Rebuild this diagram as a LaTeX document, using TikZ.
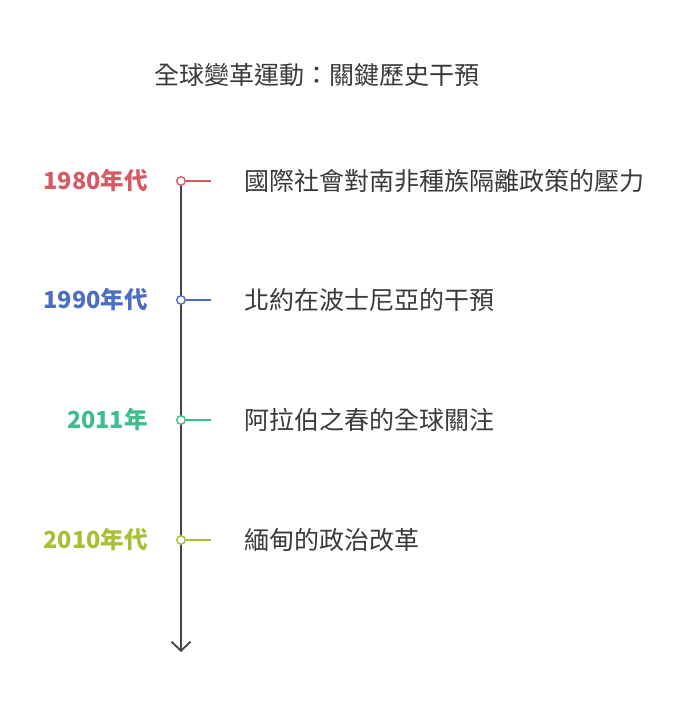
\documentclass[tikz,border=0pt]{standalone}
\usepackage{fontspec}
\setmainfont{Noto Sans CJK TC}
\usetikzlibrary{arrows.meta}
\usepackage{xcolor}
\definecolor{redline}{HTML}{D65A64}
\definecolor{blueline}{HTML}{4C6FC4}
\definecolor{greenline}{HTML}{3DBE8B}
\definecolor{limeline}{HTML}{AABF35}
\definecolor{axisgray}{HTML}{444444}
\definecolor{textgray}{HTML}{3A3A3A}

\begin{document}
\begin{tikzpicture}[x=1pt,y=1pt,>={Straight Barb[length=9pt,width=19pt,line width=1.8pt]}]
  \useasboundingbox (0,0) rectangle (678,-714);
  \tikzset{year/.style={anchor=east,font=\fontsize{23.5}{26}\selectfont\bfseries,inner sep=0pt},
    event/.style={anchor=west,font=\fontsize{25}{28}\selectfont,text=textgray,inner sep=0pt},
    dot/.style={circle,draw,fill=white,line width=1.4pt,minimum size=8.5pt,inner sep=0pt}}

  \node[font=\fontsize{25}{28}\selectfont,text=textgray] (title) at (316.5,-75) {全球變革運動：關鍵歷史干預};

  \coordinate (top) at (181,-181);
  \coordinate (bottom) at (181,-652);
  \draw[->,line width=2pt,axisgray] (top) -- (bottom);

  \node[dot,draw=redline] (d1) at (181,-181) {};
  \node[dot,draw=blueline] (d2) at (181,-300) {};
  \node[dot,draw=greenline] (d3) at (181,-420) {};
  \node[dot,draw=limeline] (d4) at (181,-540) {};

  \coordinate (t1) at (211,-181);
  \coordinate (t2) at (211,-300);
  \coordinate (t3) at (211,-420);
  \coordinate (t4) at (211,-540);
  \draw[redline,line width=1.4pt] (d1) -- (t1);
  \draw[blueline,line width=1.4pt] (d2) -- (t2);
  \draw[greenline,line width=1.4pt] (d3) -- (t3);
  \draw[limeline,line width=1.4pt] (d4) -- (t4);

  \node[year,text=redline] (y1) at (148,-181) {1980年代};
  \node[year,text=blueline] (y2) at (148,-300) {1990年代};
  \node[year,text=greenline] (y3) at (148,-420) {2011年};
  \node[year,text=limeline] (y4) at (148,-540) {2010年代};

  \node[event] (e1) at (244,-181) {國際社會對南非種族隔離政策的壓力};
  \node[event] (e2) at (244,-300) {北約在波士尼亞的干預};
  \node[event] (e3) at (244,-420) {阿拉伯之春的全球關注};
  \node[event] (e4) at (244,-540) {緬甸的政治改革};
\end{tikzpicture}
\end{document}
